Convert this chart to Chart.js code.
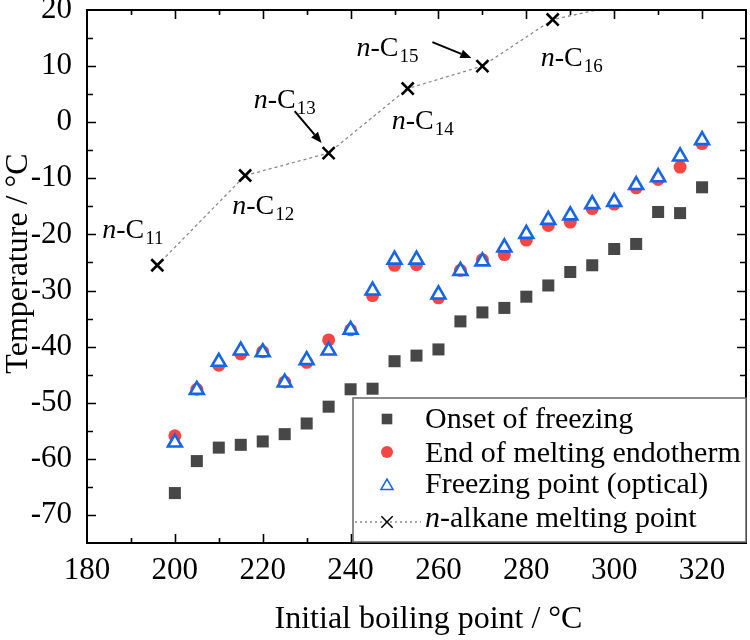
<!DOCTYPE html>
<html><head><meta charset="utf-8">
<script src="https://cdn.jsdelivr.net/npm/chart.js@4.4.1/dist/chart.umd.min.js"></script>
<style>html,body{margin:0;padding:0;background:#fff}canvas{display:block}</style>
</head><body>
<canvas id="c" width="750" height="640"></canvas>
<script>
// ---------------- data ----------------
const boilingPoints = [200,205,210,215,220,225,230,235,240,245,250,255,260,265,270,275,280,285,290,295,300,305,310,315,320];
const onsetOfFreezing = [-66.1,-60.4,-58.0,-57.5,-56.9,-55.6,-53.7,-50.7,-47.6,-47.5,-42.6,-41.6,-40.5,-35.5,-33.9,-33.1,-31.1,-29.1,-26.7,-25.5,-22.6,-21.7,-16.0,-16.2,-11.6];
const endOfMelting = [-55.9,-47.6,-43.3,-41.3,-40.9,-46.3,-42.8,-38.8,-37.0,-30.9,-25.5,-25.4,-31.3,-26.4,-24.5,-23.6,-21.0,-18.4,-17.8,-15.4,-14.6,-11.7,-10.2,-8.0,-3.8];
const freezingPointOptical = [-57.1,-47.7,-42.7,-40.7,-41.0,-46.4,-42.4,-40.7,-37.0,-30.0,-24.5,-24.5,-30.7,-26.5,-24.8,-22.3,-19.9,-17.4,-16.6,-14.6,-14.2,-11.2,-9.8,-6.1,-3.2];
const alkaneBoilingPoints = [196,216,235,253,270,286,302];
const alkaneMeltingPoints = [-25.5,-9.5,-5.5,6.0,10.0,18.3,21.0];
const alkaneCarbonNumbers = ['11','12','13','14','15','16','17'];
const xTickLabels = [180,200,220,240,260,280,300,320];
const yTickLabels = [-70,-60,-50,-40,-30,-20,-10,0,10,20];
const seriesNames = ['Onset of freezing','End of melting endotherm','Freezing point (optical)','-alkane melting point'];
const xTitle = 'Initial boiling point / °C';
const yTitle = 'Temperature / °C';

// ---------------- styling ----------------
const SERIF = '"Liberation Serif","Times New Roman",serif';
const COL_SQ = '#474747', COL_RED = '#f54646', COL_BLUE = '#1565e6';
// label placement (pixel offsets relative to each alkane point) — styling only
const alkLabelOffsets = [[-55,-27],[-13,38],[-75,-45],[-16,40],[-126,-10],[-12,46],null];
const alkArrows = [null,null,[[-34,-42],[-7,-10]],null,[[-50,-24],[-11,-8]],null,null];

const pts = (xs, ys) => xs.map((x, i) => ({x, y: ys[i]}));

function drawAlkLabel(ctx, x, y, sub) {
  ctx.save();
  ctx.fillStyle = '#000';
  ctx.textAlign = 'left';
  ctx.textBaseline = 'alphabetic';
  ctx.font = 'italic 28px ' + SERIF;
  ctx.fillText('n', x, y);
  let w = ctx.measureText('n').width;
  ctx.font = '28px ' + SERIF;
  ctx.fillText('-C', x + w, y);
  w += ctx.measureText('-C').width;
  ctx.font = '19px ' + SERIF;
  ctx.fillText(sub, x + w + 1, y + 6);
  ctx.restore();
}
function drawArrow(ctx, x1, y1, x2, y2) {
  ctx.save();
  ctx.strokeStyle = '#000'; ctx.fillStyle = '#000'; ctx.lineWidth = 2;
  const a = Math.atan2(y2 - y1, x2 - x1);
  const hl = 11, hw = 4.5;
  const bx = x2 - hl * Math.cos(a), by = y2 - hl * Math.sin(a);
  ctx.beginPath(); ctx.moveTo(x1, y1); ctx.lineTo(bx, by); ctx.stroke();
  ctx.beginPath();
  ctx.moveTo(x2, y2);
  ctx.lineTo(bx + hw * Math.sin(a), by - hw * Math.cos(a));
  ctx.lineTo(bx - hw * Math.sin(a), by + hw * Math.cos(a));
  ctx.closePath(); ctx.fill();
  ctx.restore();
}

const decor = {
  id: 'decor',
  afterDatasetsDraw(chart) {
    const ctx = chart.ctx;
    const {left, right, top, bottom} = chart.chartArea;
    const xs = chart.scales.x, ys = chart.scales.y;
    ctx.save();
    // ticks (inward, all four sides)
    ctx.strokeStyle = '#000'; ctx.lineWidth = 1.6;
    for (let v = xs.min + 10; v < xs.max; v += 10) {
      const px = Math.round(xs.getPixelForValue(v)) + 0.5;
      const len = (v % 20 === 0) ? 9 : 5;
      ctx.beginPath();
      ctx.moveTo(px, bottom); ctx.lineTo(px, bottom - len);
      ctx.moveTo(px, top); ctx.lineTo(px, top + len);
      ctx.stroke();
    }
    for (let v = ys.min + 5; v < ys.max; v += 5) {
      const py = Math.round(ys.getPixelForValue(v)) + 0.5;
      const len = (v % 10 === 0) ? 9 : 6;
      ctx.beginPath();
      ctx.moveTo(left, py); ctx.lineTo(left + len, py);
      ctx.moveTo(right, py); ctx.lineTo(right - len, py);
      ctx.stroke();
    }
    // frame
    ctx.lineWidth = 2;
    ctx.strokeRect(left, top, right - left, bottom - top);

    // annotations
    const meta = chart.getDatasetMeta(3);
    meta.data.forEach((el, i) => {
      const off = alkLabelOffsets[i];
      if (off) drawAlkLabel(ctx, el.x + off[0], el.y + off[1], alkaneCarbonNumbers[i]);
      const ar = alkArrows[i];
      if (ar) drawArrow(ctx, el.x + ar[0][0], el.y + ar[0][1], el.x + ar[1][0], el.y + ar[1][1]);
    });

    // legend
    const bl = right - 393, bt = bottom - 145, br = right, bb = bottom - 1;
    ctx.fillStyle = '#fff';
    ctx.fillRect(bl, bt, br - bl, bb - bt);
    ctx.strokeStyle = '#666'; ctx.lineWidth = 1.5;
    ctx.strokeRect(bl, bt, br - bl, bb - bt);
    const rowsMarker = [21, 54, 88, 124];
    const rowsText = [30, 64, 95, 129];
    const mx = bl + 34, tx = bl + 72;
    const dsets = chart.data.datasets;
    const legendRadii = [7.5, 6, 7, 8];
    ctx.save();
    ctx.strokeStyle = dsets[3].borderColor; ctx.lineWidth = 1.3; ctx.setLineDash([2, 3]);
    ctx.beginPath(); ctx.moveTo(bl + 2, bt + rowsMarker[3]); ctx.lineTo(bl + 68, bt + rowsMarker[3]); ctx.stroke();
    ctx.restore();
    for (let i = 0; i < 4; i++) {
      const d = dsets[i];
      ctx.save();
      if (i === 3) {
        ctx.fillStyle = d.pointBackgroundColor; ctx.strokeStyle = d.pointBorderColor;
        Chart.helpers.drawPoint(ctx, {pointStyle: d.pointStyle, radius: legendRadii[i], borderWidth: d.pointBorderWidth, rotation: 0}, mx, bt + rowsMarker[i]);
      } else {
        ctx.fillStyle = d.backgroundColor; ctx.strokeStyle = d.borderColor;
        Chart.helpers.drawPoint(ctx, {pointStyle: d.pointStyle, radius: legendRadii[i], borderWidth: d.borderWidth, rotation: 0}, mx, bt + rowsMarker[i]);
      }
      ctx.restore();
      ctx.fillStyle = '#000'; ctx.textAlign = 'left'; ctx.textBaseline = 'alphabetic';
      if (i === 3) {
        ctx.font = 'italic 30px ' + SERIF;
        ctx.fillText('n', tx, bt + rowsText[i]);
        const w = ctx.measureText('n').width;
        ctx.font = '30px ' + SERIF;
        ctx.fillText(seriesNames[i], tx + w, bt + rowsText[i]);
      } else {
        ctx.font = '30px ' + SERIF;
        ctx.fillText(seriesNames[i], tx, bt + rowsText[i]);
      }
    }

    // axis titles
    ctx.fillStyle = '#000';
    ctx.font = '32px ' + SERIF;
    ctx.textAlign = 'center'; ctx.textBaseline = 'alphabetic';
    ctx.fillText(xTitle, (left + right) / 2 + 12, bottom + 85);
    ctx.translate(27, (top + bottom) / 2 - 13);
    ctx.rotate(-Math.PI / 2);
    ctx.fillText(yTitle, 0, 0);
    ctx.restore();
  }
};

new Chart(document.getElementById('c').getContext('2d'), {
  type: 'scatter',
  data: {
    datasets: [
      {label: seriesNames[0], data: pts(boilingPoints, onsetOfFreezing), pointStyle: 'rect', pointRadius: 8.5,
       backgroundColor: COL_SQ, borderColor: COL_SQ, borderWidth: 0, order: 3},
      {label: seriesNames[1], data: pts(boilingPoints, endOfMelting), pointStyle: 'circle', pointRadius: 6.5,
       backgroundColor: COL_RED, borderColor: COL_RED, borderWidth: 0, order: 2},
      {label: seriesNames[2], data: pts(boilingPoints, freezingPointOptical), pointStyle: 'triangle', pointRadius: 8,
       backgroundColor: '#fff', borderColor: COL_BLUE, borderWidth: 2.6, order: 0},
      {label: 'n' + seriesNames[3], data: pts(alkaneBoilingPoints, alkaneMeltingPoints), showLine: true,
       borderColor: '#8a8a8a', borderWidth: 1.3, borderDash: [3, 3], fill: false,
       pointStyle: 'crossRot', pointRadius: 8.5, pointBorderColor: '#000', pointBackgroundColor: '#000',
       pointBorderWidth: 2.6, order: 1}
    ]
  },
  options: {
    responsive: false, animation: false, devicePixelRatio: 1,
    layout: {autoPadding: false, padding: {top: 10, right: 4, left: 0, bottom: 0}},
    plugins: {legend: {display: false}, tooltip: {enabled: false}},
    scales: {
      x: {
        type: 'linear', position: 'bottom', min: 180, max: 330,
        afterBuildTicks: s => { s.ticks = xTickLabels.map(v => ({value: v})); },
        ticks: {font: {family: SERIF, size: 31}, color: '#000', padding: 9, maxRotation: 0, autoSkip: false},
        grid: {display: false, drawTicks: false},
        border: {display: false},
        afterFit: s => { s.height = 97; s.paddingLeft = 0; s.paddingRight = 0; }
      },
      y: {
        type: 'linear', position: 'left', min: -75, max: 20,
        afterBuildTicks: s => { s.ticks = yTickLabels.map(v => ({value: v})); },
        ticks: {font: {family: SERIF, size: 31}, color: '#000', padding: 15, autoSkip: false},
        grid: {display: false, drawTicks: false},
        border: {display: false},
        afterFit: s => { s.width = 87; s.paddingTop = 0; s.paddingBottom = 0; }
      }
    }
  },
  plugins: [decor]
});
</script>
</body></html>
